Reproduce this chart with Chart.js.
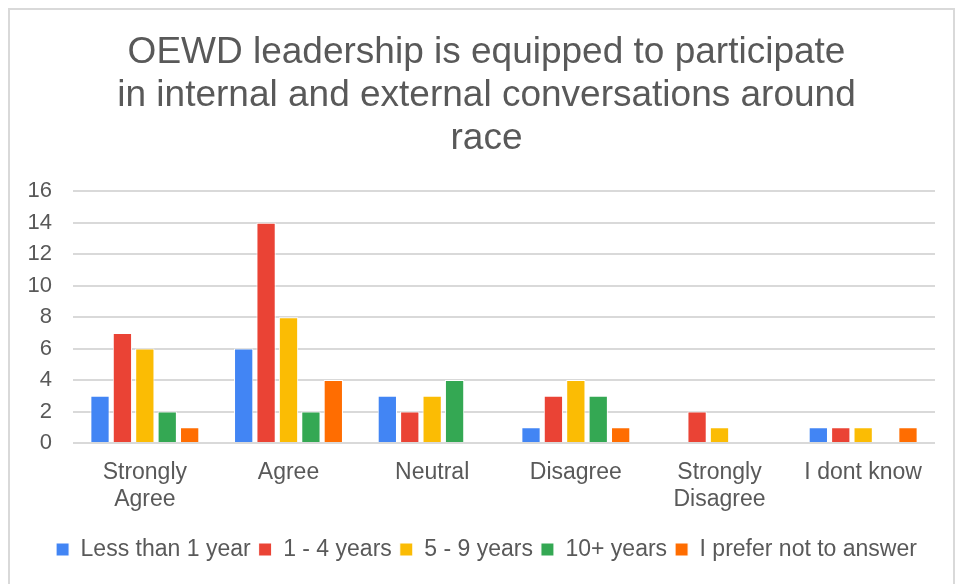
<!DOCTYPE html>
<html><head><meta charset="utf-8">
<script src="https://cdn.jsdelivr.net/npm/chart.js@4/dist/chart.umd.min.js"></script>
<style>
html,body{margin:0;padding:0;background:#fff;}
#frame{position:absolute;left:8px;top:8px;width:947px;height:600px;border:2px solid #d9d9d9;box-sizing:border-box;}
#wrap{position:absolute;left:0;top:0;width:967px;height:584px;}
</style></head>
<body>
<div id="frame"></div>
<div id="wrap"><canvas id="c" width="967" height="584"></canvas></div>
<script>
const categories = [["Strongly","Agree"],"Agree","Neutral","Disagree",["Strongly","Disagree"],"I dont know"];
const seriesNames = ["Less than 1 year","1 - 4 years","5 - 9 years","10+ years","I prefer not to answer"];
const lessThan1 = [3,6,3,1,0,1];
const years1to4 = [7,14,2,3,2,1];
const years5to9 = [6,8,3,4,1,1];
const years10plus = [2,2,4,3,0,0];
const preferNot = [1,4,0,1,0,1];
const colors = ["#4285F4","#EA4335","#FBBC04","#34A853","#FF6D01"];
const yTicks = [0,2,4,6,8,10,12,14,16];

const values = [lessThan1, years1to4, years5to9, years10plus, preferNot];
const font = "Arial, 'Liberation Sans', sans-serif";
new Chart(document.getElementById('c'), {
  type: 'bar',
  data: {
    labels: categories,
    datasets: values.map((v,i)=>({
      label: seriesNames[i], data: v, backgroundColor: colors[i],
      borderColor: '#ffffff', borderWidth: 1,
      barPercentage: 0.86, categoryPercentage: 0.78
    }))
  },
  options: {
    responsive: false, animation: false,
    layout: {padding: {left: 10, right: 4, top: 0, bottom: 13}},
    plugins: {
      title: {display: true,
        text: ["OEWD leadership is equipped to participate","in internal and external conversations around","race"],
        color: '#595959', font: {family: font, size: 37, weight: 'normal', lineHeight: 1.165},
        padding: {top: 31, bottom: 31}},
      legend: {position: 'bottom',
        labels: {color: '#595959', font: {family: font, size: 23}, boxWidth: 13, boxHeight: 13, padding: 8}},
      tooltip: {enabled: false}
    },
    scales: {
      x: {grid: {display: false}, border: {display: false},
        ticks: {color: '#595959', font: {family: font, size: 23, lineHeight: 1.17}, maxRotation: 0, autoSkip: false, padding: 8},
        afterFit: (s)=>{ s.height = 87; }},
      y: {min: 0, max: 16, border: {display: false},
        grid: {color: '#d9d9d9', lineWidth: 2, drawTicks: false},
        afterBuildTicks: (s)=>{ s.ticks = yTicks.map(v=>({value:v})); },
        ticks: {color: '#595959', font: {family: font, size: 22}, padding: 21},
        afterFit: (s)=>{ s.width = 63; }},
      yRight: {position: 'right', display: true, min: 0, max: 16,
        grid: {display: false}, border: {display: false}, ticks: {display: false},
        afterFit: (s)=>{ s.width = 28; }}
    }
  }
});
</script>
</body></html>
